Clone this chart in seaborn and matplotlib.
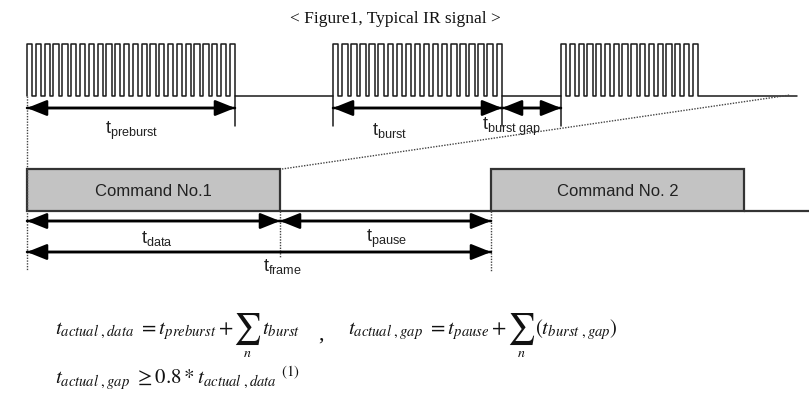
import seaborn as sns
import matplotlib.pyplot as plt
from matplotlib.patches import Rectangle

# IR bursts (picture x units): start, end, number of carrier pulses
burst_start = [27, 333, 561]
burst_end = [235, 502, 698]
burst_pulses = [24, 19, 16]
signal_end = 797

# commands on the lower time line
cmd_labels = ['Command No.1', 'Command No. 2']
cmd_start = [27, 491]
cmd_end = [280, 744]

# timing arrows: label, from, to
top_arrows = [('preburst', 27, 235), ('burst', 333, 502), ('burst gap', 502, 561)]
low_arrows = [('data', 27, 280), ('pause', 280, 491)]
frame_arrow = ('frame', 27, 491)

sns.set_theme(style='white')
plt.rcParams['font.family'] = ['Liberation Sans', 'DejaVu Sans']
plt.rcParams['mathtext.fontset'] = 'custom'
plt.rcParams['mathtext.rm'] = 'Liberation Sans'
plt.rcParams['mathtext.it'] = 'Liberation Sans'

fig = plt.figure(figsize=(8.09, 4.03), dpi=100)
ax = fig.add_axes([0, 0, 1, 1])
ax.set_xlim(0, 809)
ax.set_ylim(403, 0)
ax.axis('off')

ink = '#1a1a1a'
low, high = 96, 44
duty = 0.6

# square wave of the IR signal
xs, ys = [], []
for s, e, n in zip(burst_start, burst_end, burst_pulses):
    p = (e - s) / (n - (1 - duty))
    if xs:
        xs.append(s)
        ys.append(low)
    for i in range(n):
        x0 = s + i * p
        xs += [x0, x0, x0 + duty * p, x0 + duty * p]
        ys += [low, high, high, low]
xs.append(signal_end)
ys.append(low)
sns.lineplot(x=xs, y=ys, sort=False, estimator=None, color=ink, linewidth=1.1, ax=ax)

# tick marks under the signal
for x in burst_end[:1] + burst_start[1:] + burst_end[1:2]:
    ax.plot([x, x], [low, 126], color=ink, lw=1.1)


def arrow(x0, x1, y):
    for a, b in ((x0, x1), (x1, x0)):
        ax.annotate('', xy=(b, y), xytext=(a, y),
                    arrowprops=dict(arrowstyle='-|>,head_length=1.0,head_width=0.4',
                                    color='black', lw=1.8, shrinkA=0, shrinkB=0))


def tlabel(x, y, sub):
    ax.text(x, y, r'$\mathrm{t}_{\mathrm{%s}}$' % sub.replace(' ', r'\ '),
            ha='center', va='center', fontsize=13, color='#222222')


label_pos = {'preburst': (132, 131), 'burst': (390, 130), 'burst gap': (512, 127),
             'data': (157, 239), 'pause': (386, 239), 'frame': (282, 266)}

for name, x0, x1 in top_arrows:
    arrow(x0, x1, 108)
    tlabel(*label_pos[name], name)

# command boxes
for lab, s, e in zip(cmd_labels, cmd_start, cmd_end):
    ax.add_patch(Rectangle((s, 169), e - s, 42, facecolor='#c3c3c3', edgecolor='#333333', lw=1.6))
    ax.text((s + e) / 2, 191, lab, ha='center', va='center', fontsize=12, color='#222222')
ax.plot([cmd_end[0], cmd_start[1]], [211, 211], color='#333333', lw=1.6)
ax.plot([cmd_end[1], 809], [211, 211], color='#333333', lw=1.6)

# dotted helper lines
dot = dict(color='#444444', lw=1.0, linestyle=(0, (1, 1)))
ax.plot([27, 27], [low, 271], **dot)
ax.plot([280, 280], [211, 258], **dot)
ax.plot([491, 491], [211, 271], **dot)
ax.plot([282, 790], [169, 95], **dot)

for name, x0, x1 in low_arrows:
    arrow(x0, x1, 221)
    tlabel(*label_pos[name], name)
arrow(frame_arrow[1], frame_arrow[2], 252)
tlabel(*label_pos['frame'], 'frame')

# title
ax.text(395, 19, '< Figure1, Typical IR signal >', ha='center', va='center',
        fontsize=12.5, family='Liberation Serif', color='#111111')

# equations, laid out piece by piece so the sums can be display size
renderer = fig.canvas.get_renderer()
eq = dict(fontsize=15, math_fontfamily='stix', color='#111111', va='baseline', ha='left')


def write_pieces(x, y, pieces):
    for kind, s in pieces:
        if kind == 'sum':
            t = ax.text(x, y + 3, r'$\sum$', fontsize=22, math_fontfamily='stix',
                        color='#111111', va='baseline', ha='left')
            bb = t.get_window_extent(renderer)
            ax.text((bb.x0 + bb.x1) / 2, y + 23, r'$n$', fontsize=10, math_fontfamily='stix',
                    color='#111111', va='baseline', ha='center')
            x = bb.x1
        else:
            t = ax.text(x, y, s, **eq)
            x = t.get_window_extent(renderer).x1
    return x


write_pieces(55, 334, [('txt', r'$t_{actual\ ,data}\ =t_{preburst}+$'), ('sum', ''),
                       ('txt', r'$t_{burst}$')])
ax.text(318, 340, ',', fontsize=16, family='Liberation Serif', color='#111111')
write_pieces(348, 334, [('txt', r'$t_{actual\ ,gap}\ =t_{pause}+$'), ('sum', ''),
                        ('txt', r'$(t_{burst\ ,gap})$')])
ax.text(55, 384, r'$t_{actual\ ,gap}\ \geq 0.8*t_{actual\ ,data}\ ^{\mathrm{(1)}}$', **eq)

fig.savefig('out.png', dpi=100)
